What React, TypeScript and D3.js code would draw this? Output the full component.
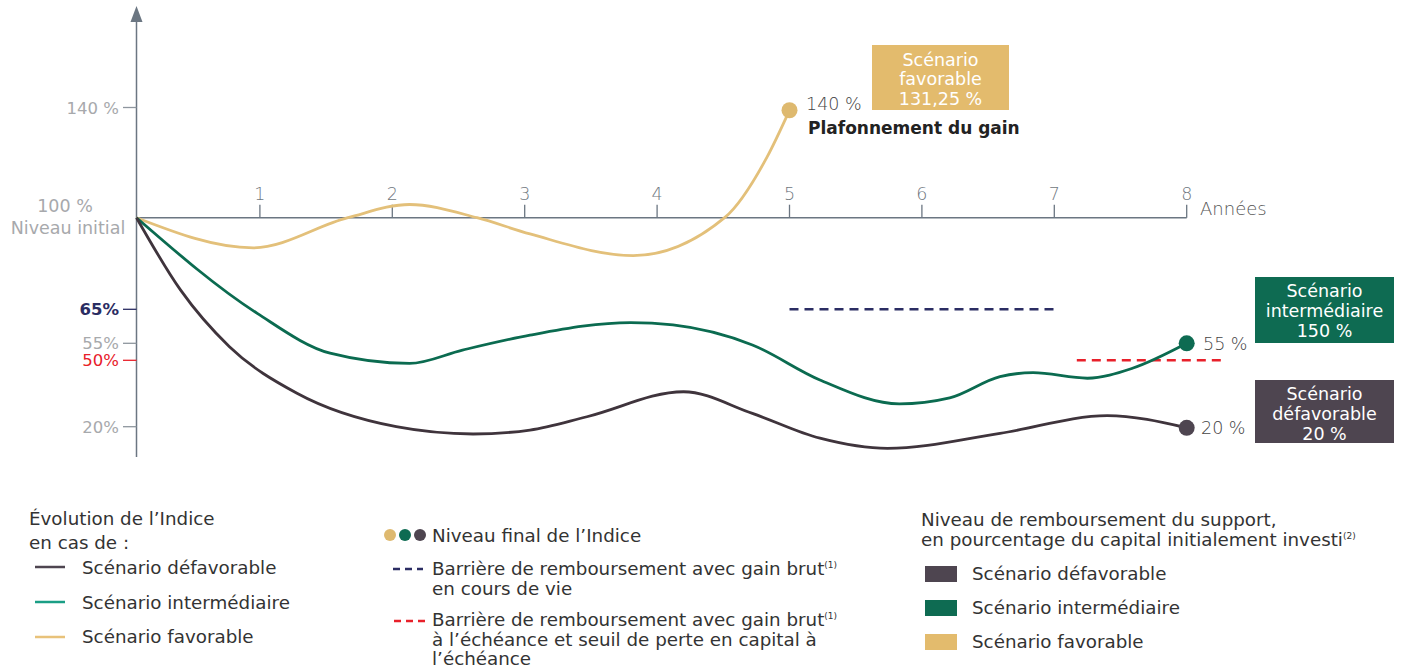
import React from "react";
import * as d3 from "d3";

const years = [1, 2, 3, 4, 5, 6, 7, 8];
const yTicks = [
  { v: 140, label: "140 %", color: "#a7a9ac" },
  { v: 65, label: "65%", color: "#2b2d63" },
  { v: 55, label: "55%", color: "#a7a9ac" },
  { v: 50, label: "50%", color: "#e8202a" },
  { v: 20, label: "20%", color: "#a7a9ac" },
];

// [year, index level %]
const favorable: [number, number][] = [
  [0.068, 100], [0.95, 88.5], [1.665, 100], [2.13, 104.8], [2.64, 100],
  [3.04, 93.8], [3.82, 85.5], [4.51, 100], [4.83, 122], [5.0, 139],
];
const intermediaire: [number, number][] = [
  [0.068, 100], [0.98, 63.8], [1.53, 52.1], [2.13, 48.6], [2.53, 53.0],
  [3.04, 57.4], [3.8, 61.1], [4.12, 60.4], [4.72, 54.5], [5.23, 41.1],
  [5.83, 30.3], [6.21, 33.0], [6.59, 42.6], [6.84, 44.4], [7.25, 41.9],
  [7.59, 46.4], [8.0, 55],
];
const defavorable: [number, number][] = [
  [0.068, 100], [0.4, 72.4], [0.77, 54], [1.28, 35.1], [2.03, 20],
  [2.61, 16.7], [3.04, 18.5], [3.47, 24.5], [4.2, 35.8], [4.72, 26.0],
  [5.23, 14.8], [5.74, 10.2], [6.59, 17], [7.4, 25], [8.0, 19.5],
];
const barrierVie = { from: 5, to: 7, level: 65 };
const barrierEcheance = { from: 7.17, to: 8.3, level: 50 };

const COL_FAV = "#e3c07a";
const COL_INT = "#0b6b50";
const COL_DEF = "#3f343c";
const BOX_FAV = "#e3bb6d";
const BOX_INT = "#0e6b52";
const BOX_DEF = "#4e4550";
const AXIS = "#6b7682";
const TXT = "#333333";
const FONT = "'DejaVu Sans', 'Open Sans', sans-serif";

export default function App() {
  const x = d3.scaleLinear().domain([0, 8]).range([127.5, 1186.7]);
  const y = d3
    .scaleLinear()
    .domain([20, 50, 55, 65, 100, 140])
    .range([426.7, 360.3, 343.3, 309.3, 217.7, 107.5]);
  const line = d3
    .line<[number, number]>()
    .x((d) => x(d[0]))
    .y((d) => y(d[1]))
    .curve(d3.curveMonotoneX);
  const axisX = 136.5;
  const y100 = y(100);

  const last = (a: [number, number][]) => a[a.length - 1];
  const fEnd = last(favorable);
  const iEnd = last(intermediaire);
  const dEnd = last(defavorable);

  return (
    <svg
      width={1403}
      height={667}
      style={{ position: "absolute", left: 0, top: 0, fontFamily: FONT }}
    >
      <rect width={1403} height={667} fill="#fff" />
      {/* Y axis */}
      <line x1={axisX} x2={axisX} y1={20} y2={457} stroke={AXIS} strokeWidth={1.5} />
      <path d={`M${axisX - 6},22 L${axisX},6 L${axisX + 6},22 Z`} fill={AXIS} />
      {/* X axis */}
      <line x1={axisX} x2={x(8)} y1={y100} y2={y100} stroke={AXIS} strokeWidth={1.5} />
      {years.map((t) => (
        <g key={t}>
          <line x1={x(t)} x2={x(t)} y1={y100 - 13} y2={y100} stroke={AXIS} strokeWidth={1.3} />
          <text x={x(t)} y={y100 - 18} textAnchor="middle" fontSize={17.5} fill="#6f7780" fontWeight={200}>
            {t}
          </text>
        </g>
      ))}
      <text x={1200} y={215} fontSize={18} fill="#555" fontWeight={200}>
        Années
      </text>
      {/* Y ticks */}
      {yTicks.map((t) => (
        <g key={t.label}>
          <line x1={123} x2={axisX} y1={y(t.v)} y2={y(t.v)} stroke={t.color === "#a7a9ac" ? "#8e969e" : t.color} strokeWidth={1.3} />
          <text x={119} y={y(t.v) + 6} textAnchor="end" fontSize={16.5} fill={t.color} fontWeight={t.v === 65 ? 700 : 400}>
            {t.label}
          </text>
        </g>
      ))}
      <text x={65} y={212} textAnchor="middle" fontSize={17.5} fill="#a7a9ac">
        100 %
      </text>
      <text x={68} y={234} textAnchor="middle" fontSize={17.5} fill="#a7a9ac">
        Niveau initial
      </text>

      {/* barriers */}
      <line
        x1={x(barrierVie.from)} x2={x(barrierVie.to)} y1={y(barrierVie.level)} y2={y(barrierVie.level)}
        stroke="#2b2d63" strokeWidth={2.5} strokeDasharray="9 6"
      />
      <line
        x1={x(barrierEcheance.from)} x2={x(barrierEcheance.to)} y1={y(barrierEcheance.level)} y2={y(barrierEcheance.level)}
        stroke="#e8202a" strokeWidth={2.5} strokeDasharray="9 6"
      />

      {/* curves */}
      <path d={line(favorable) || ""} fill="none" stroke={COL_FAV} strokeWidth={2.8} />
      <path d={line(intermediaire) || ""} fill="none" stroke={COL_INT} strokeWidth={2.8} />
      <path d={line(defavorable) || ""} fill="none" stroke={COL_DEF} strokeWidth={2.8} />
      <circle cx={x(fEnd[0])} cy={y(fEnd[1])} r={8} fill="#deb96f" />
      <circle cx={x(iEnd[0])} cy={y(iEnd[1])} r={8} fill={BOX_INT} />
      <circle cx={x(dEnd[0])} cy={y(dEnd[1])} r={8} fill={BOX_DEF} />

      {/* end labels */}
      <text x={806} y={110} fontSize={17.5} fill="#444" fontWeight={200}>140 %</text>
      <text x={808} y={134} fontSize={17} fill="#222" fontWeight={700}>Plafonnement du gain</text>
      <text x={1203} y={350} fontSize={17.5} fill="#444" fontWeight={200}>55 %</text>
      <text x={1201} y={434} fontSize={17.5} fill="#444" fontWeight={200}>20 %</text>

      {/* boxes */}
      <rect x={872} y={45} width={137} height={65} fill={BOX_FAV} />
      {["Scénario", "favorable", "131,25 %"].map((s, i) => (
        <text key={s} x={940.5} y={65.5 + i * 19.5} textAnchor="middle" fontSize={17.5} fill="#fff">{s}</text>
      ))}
      <rect x={1255} y={277} width={139} height={66} fill={BOX_INT} />
      {["Scénario", "intermédiaire", "150 %"].map((s, i) => (
        <text key={s} x={1324.5} y={296.5 + i * 20} textAnchor="middle" fontSize={17.5} fill="#fff">{s}</text>
      ))}
      <rect x={1255} y={380} width={139} height={63} fill={BOX_DEF} />
      {["Scénario", "défavorable", "20 %"].map((s, i) => (
        <text key={s} x={1324.5} y={399.5 + i * 20} textAnchor="middle" fontSize={17.5} fill="#fff">{s}</text>
      ))}

      {/* Legend column 1 */}
      <g fontSize={18.3} fill={TXT}>
        <text x={29} y={525}>Évolution de l’Indice</text>
        <text x={29} y={548.5}>en cas de :</text>
        <line x1={35} x2={65} y1={567} y2={567} stroke="#4e4550" strokeWidth={2.5} />
        <text x={82} y={573.5}>Scénario défavorable</text>
        <line x1={35} x2={65} y1={602} y2={602} stroke="#1a9e85" strokeWidth={2.5} />
        <text x={82} y={608.5}>Scénario intermédiaire</text>
        <line x1={35} x2={65} y1={637} y2={637} stroke="#e8c27a" strokeWidth={2.5} />
        <text x={82} y={642.5}>Scénario favorable</text>

        {/* column 2 */}
        <circle cx={390} cy={535} r={6} fill="#deb96f" />
        <circle cx={405} cy={535} r={6} fill={BOX_INT} />
        <circle cx={420} cy={535} r={6} fill={BOX_DEF} />
        <text x={432} y={542}>Niveau final de l’Indice</text>
        <line x1={393} x2={423} y1={569} y2={569} stroke="#2b2d63" strokeWidth={2.5} strokeDasharray="7 5" />
        <text x={432} y={574.5}>Barrière de remboursement avec gain brut<tspan fontSize={9} dy={-7}>(1)</tspan></text>
        <text x={432} y={594.5}>en cours de vie</text>
        <line x1={394} x2={426} y1={621} y2={621} stroke="#e8202a" strokeWidth={2.5} strokeDasharray="7 5" />
        <text x={432} y={626}>Barrière de remboursement avec gain brut<tspan fontSize={9} dy={-7}>(1)</tspan></text>
        <text x={432} y={645.5}>à l’échéance et seuil de perte en capital à</text>
        <text x={432} y={664.5}>l’échéance</text>

        {/* column 3 */}
        <text x={921} y={526}>Niveau de remboursement du support,</text>
        <text x={921} y={546}>en pourcentage du capital initialement investi<tspan fontSize={9} dy={-7}>(2)</tspan></text>
        <rect x={925} y={566} width={32} height={16} fill={BOX_DEF} />
        <text x={972} y={579.5}>Scénario défavorable</text>
        <rect x={925} y={600} width={32} height={16} fill={BOX_INT} />
        <text x={972} y={613.5}>Scénario intermédiaire</text>
        <rect x={925} y={634} width={32} height={16} fill={BOX_FAV} />
        <text x={972} y={647.5}>Scénario favorable</text>
      </g>
    </svg>
  );
}
